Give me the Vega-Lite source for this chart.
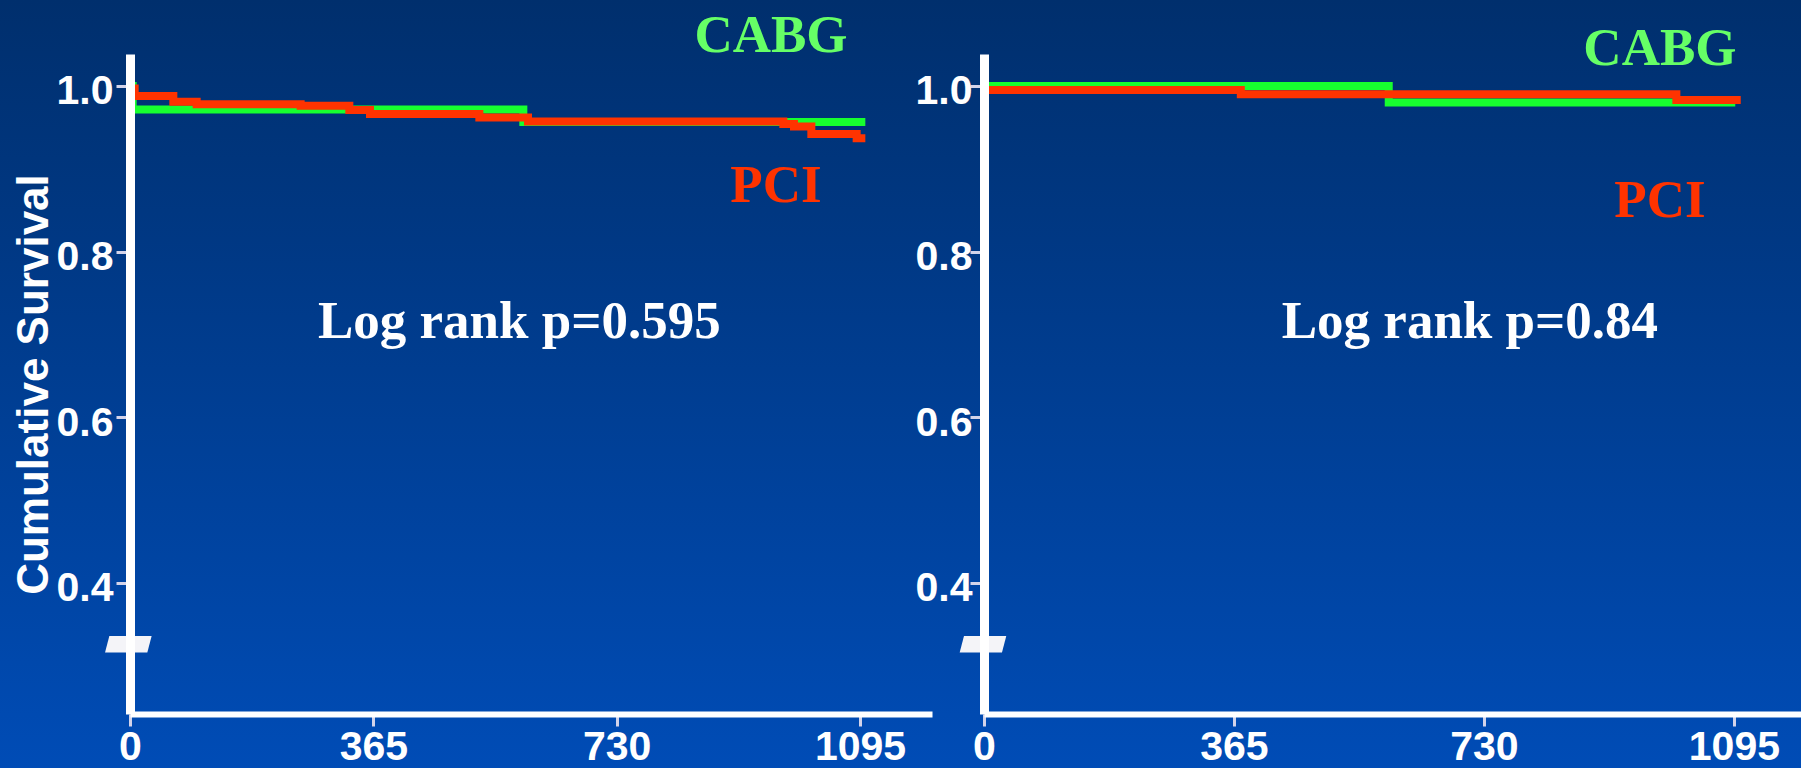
{
  "$schema": "https://vega.github.io/schema/vega-lite/v6.json",
  "padding": 0,
  "autosize": {"type": "pad"},
  "background": "#003f95",
  "bounds": "flush",
  "spacing": 52,
  "config": {
    "view": {"stroke": null},
    "axis": {
      "grid": false,
      "domainColor": "#ffffff", "domainCap": "butt",
      "tickColor": "#d4d4ea", "tickWidth": 3,
      "labelColor": "#ffffff", "labelFont": "Liberation Sans Narrow, Arial Narrow, Liberation Sans", "labelFontWeight": "bold", "labelFontSize": 41,
      "titleColor": "#ffffff", "titleFont": "Liberation Sans", "titleFontWeight": "bold", "titleFontSize": 44
    },
    "axisX": {"domainWidth": 6, "tickSize": 12, "labelPadding": 1, "labelFlush": false, "labelOverlap": false},
    "axisY": {"domainWidth": 9, "tickSize": 14, "labelPadding": 3, "labelOffset": 6, "titlePadding": 0, "labelOverlap": false}
  },
  "hconcat": [
    {
      "width": 802,
      "height": 660,
      "layer": [
        {
          "data": {"values": [{"k": 1}]},
          "mark": {"type": "rect", "color": {"gradient": "linear", "x1": 0, "y1": 0, "x2": 0, "y2": 1,
            "stops": [{"offset": 0, "color": "#002f6d"}, {"offset": 1, "color": "#004cb6"}]}},
          "encoding": {
            "x": {"datum": -195, "type": "quantitative"},
            "x2": {"datum": 1300},
            "y": {"datum": 1.1038, "type": "quantitative"},
            "y2": {"datum": 0.1763}
          }
        },
        {
          "data": {"values": [
            {"group": "CABG", "day": 0, "surv": 1.0},
            {"group": "CABG", "day": 4, "surv": 0.9716},
            {"group": "CABG", "day": 590, "surv": 0.9565},
            {"group": "CABG", "day": 1103, "surv": 0.9565},
            {"group": "PCI", "day": 0, "surv": 0.997},
            {"group": "PCI", "day": 7, "surv": 0.988},
            {"group": "PCI", "day": 65, "surv": 0.981},
            {"group": "PCI", "day": 100, "surv": 0.978},
            {"group": "PCI", "day": 256, "surv": 0.976},
            {"group": "PCI", "day": 329, "surv": 0.971},
            {"group": "PCI", "day": 360, "surv": 0.966},
            {"group": "PCI", "day": 524, "surv": 0.962},
            {"group": "PCI", "day": 597, "surv": 0.957},
            {"group": "PCI", "day": 980, "surv": 0.954},
            {"group": "PCI", "day": 996, "surv": 0.951},
            {"group": "PCI", "day": 1022, "surv": 0.942},
            {"group": "PCI", "day": 1090, "surv": 0.937},
            {"group": "PCI", "day": 1103, "surv": 0.937}
          ]},
          "layer": [
            {
              "transform": [{"filter": "datum.group === 'CABG'"}],
              "mark": {"type": "line", "interpolate": "step-after", "strokeWidth": 8, "strokeCap": "butt"},
              "encoding": {
                "x": {"field": "day", "type": "quantitative", "title": null,
                      "scale": {"domain": [0, 1203], "nice": false, "zero": false},
                      "axis": {"values": [0, 365, 730, 1095], "format": "d", "title": null, "zindex": 2}},
                "y": {"field": "surv", "type": "quantitative", "title": "Cumulative Survival",
                      "scale": {"domain": [0.2415, 1.0386], "nice": false, "zero": false},
                      "axis": {"values": [0.4, 0.6, 0.8, 1.0], "format": ".1f", "title": "Cumulative Survival", "zindex": 2}},
                "color": {"field": "group", "type": "nominal", "scale": {"domain": ["CABG", "PCI"], "range": ["#17ff2f", "#ff3300"]}, "legend": null}
              }
            },
            {
              "transform": [{"filter": "datum.group === 'PCI'"}],
              "mark": {"type": "line", "interpolate": "step-after", "strokeWidth": 8, "strokeCap": "butt"},
              "encoding": {
                "x": {"field": "day", "type": "quantitative"},
                "y": {"field": "surv", "type": "quantitative"},
                "color": {"field": "group", "type": "nominal", "legend": null}
              }
            }
          ]
        },
        {
          "data": {"values": [{"k": 1}]},
          "mark": {"type": "point", "shape": "M-0.815,-0.357L1,-0.357L0.815,0.357L-1,0.357Z", "size": 2172, "filled": true, "color": "#f4f4f8", "opacity": 1, "strokeWidth": 0, "zindex": 3},
          "encoding": {"x": {"datum": -2.5, "type": "quantitative"}, "y": {"datum": 0.3257, "type": "quantitative"}}
        },
        {
          "data": {"values": [{"k": 1}]},
          "mark": {"type": "text", "text": "CABG", "font": "Liberation Serif", "fontWeight": "bold", "fontSize": 53, "color": "#66ff66", "align": "center", "baseline": "alphabetic"},
          "encoding": {"x": {"datum": 961.5, "type": "quantitative"}, "y": {"datum": 1.0411, "type": "quantitative"}}
        },
        {
          "data": {"values": [{"k": 1}]},
          "mark": {"type": "text", "text": "PCI", "font": "Liberation Serif", "fontWeight": "bold", "fontSize": 53, "color": "#ff3300", "align": "center", "baseline": "alphabetic"},
          "encoding": {"x": {"datum": 969, "type": "quantitative"}, "y": {"datum": 0.8599, "type": "quantitative"}}
        },
        {
          "data": {"values": [{"k": 1}]},
          "mark": {"type": "text", "text": "Log rank p=0.595", "font": "Liberation Serif", "fontWeight": "bold", "fontSize": 53, "color": "#ffffff", "align": "center", "baseline": "alphabetic"},
          "encoding": {"x": {"datum": 584, "type": "quantitative"}, "y": {"datum": 0.6957, "type": "quantitative"}}
        }
      ]
    },
    {
      "width": 817,
      "height": 660,
      "layer": [
        {
          "data": {"values": [{"k": 1}]},
          "mark": {"type": "rect", "color": {"gradient": "linear", "x1": 0, "y1": 0, "x2": 0, "y2": 1,
            "stops": [{"offset": 0, "color": "#002f6d"}, {"offset": 1, "color": "#004cb6"}]}},
          "encoding": {
            "x": {"datum": -70, "type": "quantitative"},
            "x2": {"datum": 1193},
            "y": {"datum": 1.1038, "type": "quantitative"},
            "y2": {"datum": 0.1763}
          }
        },
        {
          "data": {"values": [
            {"group": "CABG", "day": 0, "surv": 1.0},
            {"group": "CABG", "day": 591, "surv": 0.980},
            {"group": "CABG", "day": 1097, "surv": 0.980},
            {"group": "PCI", "day": 0, "surv": 0.995},
            {"group": "PCI", "day": 375, "surv": 0.990},
            {"group": "PCI", "day": 1011, "surv": 0.983},
            {"group": "PCI", "day": 1105, "surv": 0.983}
          ]},
          "layer": [
            {
              "transform": [{"filter": "datum.group === 'CABG'"}],
              "mark": {"type": "line", "interpolate": "step-after", "strokeWidth": 8, "strokeCap": "butt"},
              "encoding": {
                "x": {"field": "day", "type": "quantitative", "title": null,
                      "scale": {"domain": [0, 1193], "nice": false, "zero": false},
                      "axis": {"values": [0, 365, 730, 1095], "format": "d", "title": null, "zindex": 2}},
                "y": {"field": "surv", "type": "quantitative", "title": null,
                      "scale": {"domain": [0.2415, 1.0386], "nice": false, "zero": false},
                      "axis": {"values": [0.4, 0.6, 0.8, 1.0], "format": ".1f", "title": null, "labelPadding": -2, "zindex": 2}},
                "color": {"field": "group", "type": "nominal", "scale": {"domain": ["CABG", "PCI"], "range": ["#17ff2f", "#ff3300"]}, "legend": null}
              }
            },
            {
              "transform": [{"filter": "datum.group === 'PCI'"}],
              "mark": {"type": "line", "interpolate": "step-after", "strokeWidth": 8, "strokeCap": "butt"},
              "encoding": {
                "x": {"field": "day", "type": "quantitative"},
                "y": {"field": "surv", "type": "quantitative"},
                "color": {"field": "group", "type": "nominal", "legend": null}
              }
            }
          ]
        },
        {
          "data": {"values": [{"k": 1}]},
          "mark": {"type": "point", "shape": "M-0.815,-0.357L1,-0.357L0.815,0.357L-1,0.357Z", "size": 2172, "filled": true, "color": "#f4f4f8", "opacity": 1, "strokeWidth": 0, "zindex": 3},
          "encoding": {"x": {"datum": -1.5, "type": "quantitative"}, "y": {"datum": 0.3257, "type": "quantitative"}}
        },
        {
          "data": {"values": [{"k": 1}]},
          "mark": {"type": "text", "text": "CABG", "font": "Liberation Serif", "fontWeight": "bold", "fontSize": 53, "color": "#66ff66", "align": "center", "baseline": "alphabetic"},
          "encoding": {"x": {"datum": 987, "type": "quantitative"}, "y": {"datum": 1.0254, "type": "quantitative"}}
        },
        {
          "data": {"values": [{"k": 1}]},
          "mark": {"type": "text", "text": "PCI", "font": "Liberation Serif", "fontWeight": "bold", "fontSize": 53, "color": "#ff3300", "align": "center", "baseline": "alphabetic"},
          "encoding": {"x": {"datum": 987, "type": "quantitative"}, "y": {"datum": 0.8418, "type": "quantitative"}}
        },
        {
          "data": {"values": [{"k": 1}]},
          "mark": {"type": "text", "text": "Log rank p=0.84", "font": "Liberation Serif", "fontWeight": "bold", "fontSize": 53, "color": "#ffffff", "align": "center", "baseline": "alphabetic"},
          "encoding": {"x": {"datum": 709.5, "type": "quantitative"}, "y": {"datum": 0.6957, "type": "quantitative"}}
        }
      ]
    }
  ]
}
